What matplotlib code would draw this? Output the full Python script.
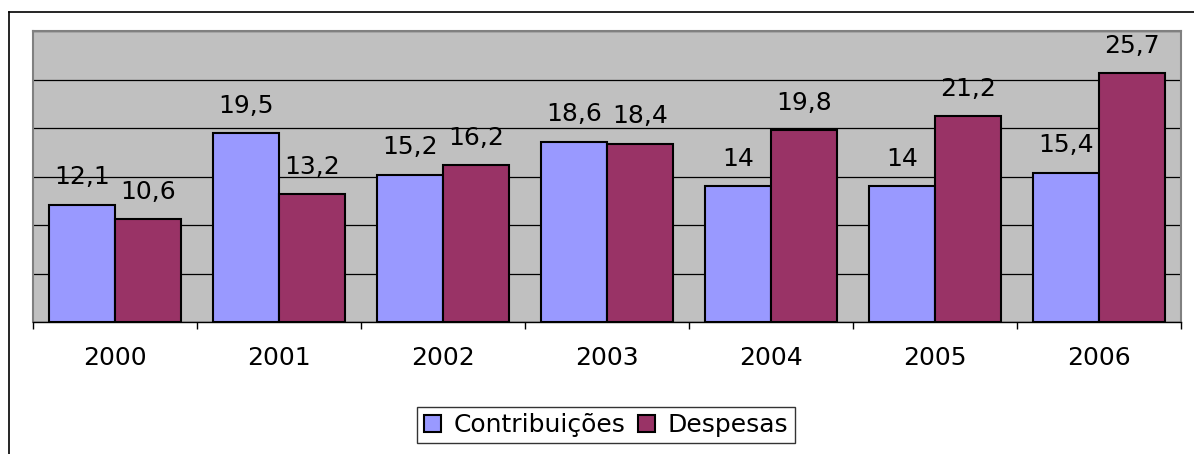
import numpy as np
import matplotlib.pyplot as plt
from matplotlib.lines import Line2D

plt.rcParams['font.family'] = ['DejaVu Sans']

# contributions vs expenses per year
anos = ['2000', '2001', '2002', '2003', '2004', '2005', '2006']
contribuicoes = [12.1, 19.5, 15.2, 18.6, 14, 14, 15.4]
despesas = [10.6, 13.2, 16.2, 18.4, 19.8, 21.2, 25.7]
series_nomes = ['Contribuições', 'Despesas']

W, H = 1194, 454
fig = plt.figure(figsize=(W / 100, H / 100), dpi=100)
ax = fig.add_axes([33 / W, 1 - 322 / H, (1181 - 33) / W, (322 - 31) / H])
ax.set_facecolor('#C0C0C0')

x = np.arange(len(anos))
largura = 0.4
b1 = ax.bar(x - largura / 2, contribuicoes, largura, color='#9999FF',
            edgecolor='black', linewidth=1.5, zorder=3, label=series_nomes[0])
b2 = ax.bar(x + largura / 2, despesas, largura, color='#993366',
            edgecolor='black', linewidth=1.5, zorder=3, label=series_nomes[1])

def fmt(v):
    s = f'{v:g}'
    return s.replace('.', ',')

for barras, vals in [(b1, contribuicoes), (b2, despesas)]:
    for r, v in zip(barras, vals):
        ax.annotate(fmt(v), (r.get_x() + r.get_width() / 2, v),
                    xytext=(0, 14.5), textcoords='offset points',
                    ha='center', va='baseline', fontsize=18, zorder=4)

ax.set_xlim(-0.5, len(anos) - 0.5)
ax.set_ylim(0, 30)
ax.set_yticks(np.arange(0, 31, 5))
ax.set_yticklabels([])
ax.tick_params(axis='y', length=0)
ax.grid(axis='y', color='black', linewidth=0.9, zorder=1)

# ticks at category boundaries, labels at centres
ax.set_xticks(np.arange(-0.5, len(anos), 1))
ax.set_xticklabels([])
ax.set_xticks(x, minor=True)
ax.set_xticklabels(anos, minor=True, fontsize=18)
ax.tick_params(axis='x', which='major', length=5, width=1, color='black', direction='out')
ax.tick_params(axis='x', which='minor', length=0, pad=17.5)

for s in ['left', 'top', 'right']:
    ax.spines[s].set_color('#808080')
    ax.spines[s].set_linewidth(1.5)
ax.spines['bottom'].set_color('black')
ax.spines['bottom'].set_linewidth(1)

leg = fig.legend(handles=[b1, b2], loc='center', bbox_to_anchor=(606 / W, 1 - 425 / H),
                 ncol=2, fontsize=18, frameon=True, fancybox=False,
                 handlelength=0.7, handleheight=0.7, handletextpad=0.5,
                 columnspacing=0.5, borderpad=0.25, borderaxespad=0)
leg.get_frame().set_edgecolor('black')
leg.get_frame().set_linewidth(1)
for h in leg.legend_handles:
    h.set_linewidth(1.5)

# outer chart border
fig.add_artist(Line2D([8.5 / W, 8.5 / W], [-0.1, 1 - 11.5 / H], color='black', linewidth=1.2,
                      transform=fig.transFigure))
fig.add_artist(Line2D([8.5 / W, 1.1], [1 - 11.5 / H, 1 - 11.5 / H], color='black', linewidth=1.2,
                      transform=fig.transFigure))

fig.savefig('out.png', dpi=100)
